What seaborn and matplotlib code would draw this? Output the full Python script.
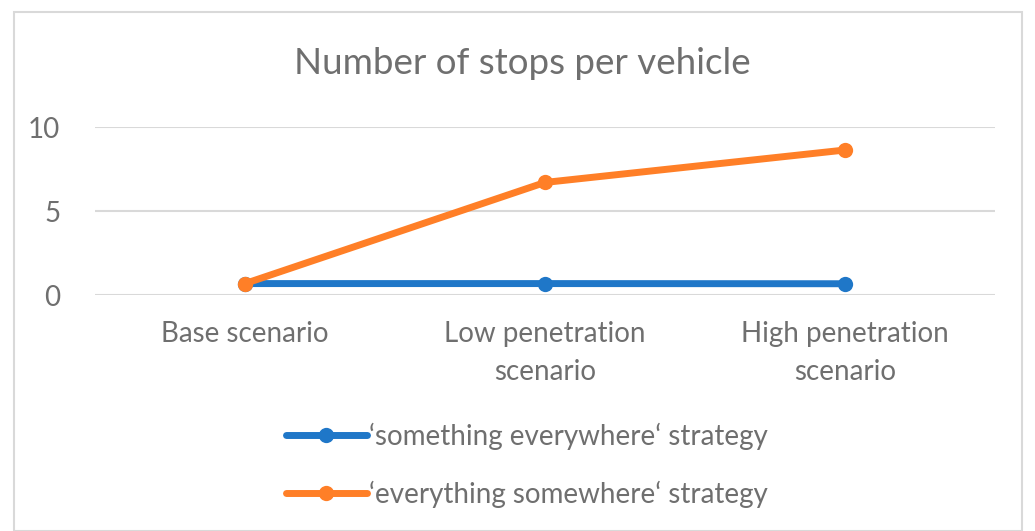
import pandas as pd
import matplotlib.pyplot as plt
import seaborn as sns
from matplotlib.patches import Rectangle

categories = ["Base scenario", "Low penetration\nscenario", "High penetration\nscenario"]
series_names = ["\u2018something everywhere\u2018 strategy", "\u2018everything somewhere\u2018 strategy"]
something_everywhere = [0.68, 0.68, 0.67]
everything_somewhere = [0.68, 6.7, 8.63]
colors = ["#1F77C8", "#FF7F27"]

df = pd.DataFrame({
    "scenario": categories * 2,
    "x": list(range(len(categories))) * 2,
    "stops": something_everywhere + everything_somewhere,
    "strategy": [series_names[0]] * 3 + [series_names[1]] * 3,
})

sns.set_theme(style="white")
plt.rcParams["font.family"] = ["Lato", "DejaVu Sans"]
text_color = "#6F6F6F"

fig = plt.figure(figsize=(10.35, 5.31), dpi=100)
ax = fig.add_axes([95 / 1035, 1 - 295 / 531, 900 / 1035, 168 / 531])

sns.lineplot(data=df, x="x", y="stops", hue="strategy", palette=colors,
             marker="o", markersize=11, markeredgewidth=0, linewidth=5,
             ax=ax, legend=True)

ax.set_xlim(-0.5, 2.5)
ax.set_ylim(0, 10)
ax.set_yticks([0, 5, 10])
ax.set_xticks(range(len(categories)))
ax.set_xticklabels(categories, color=text_color, fontsize=20, linespacing=1.55)
ax.tick_params(axis="y", labelcolor=text_color, labelsize=20, pad=25, length=0)
ax.tick_params(axis="x", pad=19, length=0)
ax.grid(axis="y", color="#D9D9D9", linewidth=1.5)
ax.set_axisbelow(True)
for s in ax.spines.values():
    s.set_visible(False)
ax.set_xlabel("")
ax.set_ylabel("")

fig.text(522 / 1035, 1 - 63 / 531, "Number of stops per vehicle", ha="center", va="center",
         fontsize=26.5, color=text_color)

handles, labels = ax.get_legend_handles_labels()
ax.legend(handles, labels, loc="center", bbox_to_anchor=(527 / 1035, 1 - 465 / 531),
          bbox_transform=fig.transFigure, frameon=False, fontsize=20, labelcolor=text_color,
          handlelength=2.9, handletextpad=0.1, labelspacing=1.1)

fig.patches.append(Rectangle((14 / 1035, 0), 1008 / 1035, 1 - 12 / 531, transform=fig.transFigure,
                             fill=False, edgecolor="#D9D9D9", linewidth=1.5))

fig.savefig("out.png", dpi=100)
